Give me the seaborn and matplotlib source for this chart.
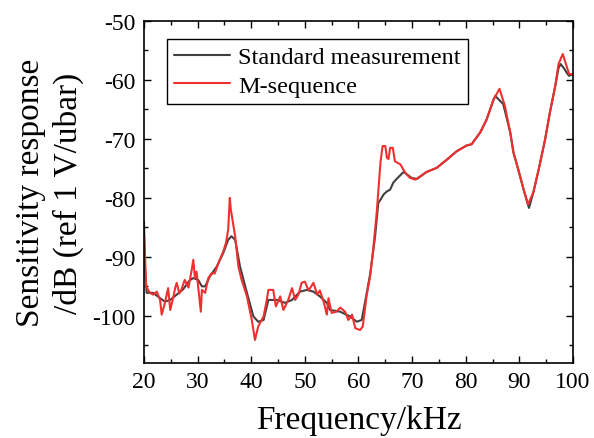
import numpy as np
import pandas as pd
import matplotlib
matplotlib.use("Agg")
import matplotlib.pyplot as plt
from matplotlib.ticker import MultipleLocator
import seaborn as sns

# --- Data ---
freq_std = [20.0, 20.2, 20.5, 21.7, 23.0, 23.9, 24.9, 26.1, 27.3, 28.6,
            29.2, 30.1, 30.8, 31.4, 32.3, 33.6, 34.8, 35.7, 36.3, 37.0,
            37.9, 39.2, 40.4, 41.3, 42.3, 43.2, 44.8, 46.3, 47.6, 49.1,
            50.4, 51.6, 52.8, 54.1, 54.7, 56.6, 58.4, 59.7, 60.6, 61.2,
            62.2, 63.1, 63.7, 63.9, 64.7, 65.3, 65.9, 66.5, 67.1, 68.4,
            69.0, 69.9, 70.9, 72.7, 74.6, 76.5, 78.3, 80.2, 81.1, 82.7,
            83.9, 85.2, 85.5, 87.0, 88.3, 88.9, 89.8, 90.8, 91.8, 92.6,
            93.6, 94.8, 95.7, 96.7, 97.3, 97.7, 98.3, 99.0, 99.3, 100.0]
sens_std = [-84.0, -92.0, -96.1, -96.1, -97.0, -97.6, -97.3, -96.4, -95.5, -93.9,
            -93.6, -93.9, -95.0, -95.0, -93.3, -91.6, -89.3, -87.1, -86.5, -87.1,
            -91.6, -96.1, -100.1, -101.0, -100.7, -97.3, -97.3, -97.8, -97.3, -95.9,
            -95.6, -95.9, -96.7, -97.8, -99.0, -99.3, -100.1, -101.0, -100.7, -97.8,
            -92.8, -86.5, -80.8, -80.6, -79.4, -78.9, -78.6, -77.4, -76.8, -75.6,
            -76.0, -76.6, -76.8, -75.6, -74.9, -73.5, -72.1, -71.1, -70.9, -68.9,
            -66.7, -63.3, -62.7, -64.1, -68.9, -72.3, -75.2, -78.6, -81.7, -79.1,
            -75.2, -70.1, -65.5, -61.0, -58.0, -57.3, -58.0, -59.0, -59.3, -59.0]

freq_mseq = [20.0, 20.2, 20.4, 21.1, 21.7, 22.4, 23.0, 23.3, 23.9, 24.5,
             24.9, 25.5, 25.8, 26.1, 26.6, 27.0, 27.6, 28.3, 28.9, 29.2,
             29.5, 29.8, 30.3, 30.6, 30.8, 31.4, 32.0, 32.6, 33.2, 33.9,
             34.7, 35.3, 35.7, 36.0, 36.2, 37.0, 37.6, 38.2, 39.2, 40.1,
             40.7, 41.3, 42.3, 42.9, 43.2, 44.1, 44.6, 45.4, 46.0, 46.9,
             47.6, 48.2, 48.8, 49.4, 50.0, 50.7, 51.6, 52.3, 52.8, 53.5,
             54.1, 54.4, 55.0, 55.9, 56.6, 57.5, 58.1, 58.8, 59.4, 60.3,
             60.8, 61.5, 62.2, 62.8, 63.4, 64.1, 64.5, 65.0, 65.3, 65.6,
             65.9, 66.4, 66.8, 67.8, 68.7, 69.6, 70.6, 72.7, 74.6, 76.5,
             78.3, 80.2, 81.1, 82.7, 83.9, 85.2, 86.3, 87.3, 88.3, 88.9,
             89.8, 90.8, 91.6, 92.6, 93.6, 94.8, 95.7, 96.7, 97.3, 98.1,
             99.0, 99.3, 100.0]
sens_mseq = [-86.5, -90.0, -95.0, -96.1, -96.4, -95.9, -97.3, -99.8, -97.8, -95.3,
             -99.0, -96.7, -95.3, -94.4, -96.2, -95.5, -93.9, -95.2, -92.2, -90.5,
             -93.6, -92.5, -96.7, -99.3, -95.6, -96.1, -93.6, -92.8, -92.8, -91.0,
             -89.3, -87.6, -85.4, -80.0, -82.0, -86.5, -91.6, -93.9, -96.7, -100.7,
             -104.1, -101.8, -100.1, -97.3, -95.6, -95.6, -98.4, -96.7, -99.0, -97.3,
             -95.3, -97.3, -96.4, -94.4, -94.2, -95.7, -94.4, -96.4, -95.7, -97.6,
             -99.8, -97.0, -99.5, -99.3, -98.6, -99.3, -100.7, -99.8, -102.1, -102.4,
             -101.8, -96.7, -93.1, -88.2, -82.5, -74.0, -71.2, -71.2, -73.2, -73.4,
             -71.5, -71.5, -73.8, -74.3, -75.7, -76.6, -76.9, -75.6, -74.9, -73.5,
             -72.1, -71.1, -70.9, -68.9, -66.7, -63.3, -61.5, -64.4, -68.9, -72.3,
             -75.2, -78.6, -81.1, -79.1, -75.2, -70.1, -65.5, -61.0, -57.3, -55.6,
             -58.2, -59.0, -59.0]

# --- Style ---
sns.set_style("ticks")
plt.rcParams['font.family'] = ['Liberation Serif', 'DejaVu Serif']
plt.rcParams['axes.unicode_minus'] = False
plt.rcParams['text.color'] = 'black'
plt.rcParams['axes.labelcolor'] = 'black'

fig = plt.figure(figsize=(5.94, 4.39), dpi=100)
ax = fig.add_axes([0.2424, 0.1708, 0.7222, 0.7791])

sns.lineplot(x=freq_std, y=sens_std, ax=ax, color='#404040', linewidth=1.5,
             label='Standard measurement', sort=False)
sns.lineplot(x=freq_mseq, y=sens_mseq, ax=ax, color='#f03030', linewidth=1.5,
             label='M-sequence', sort=False)

ax.set_xlim(20, 100)
ax.set_ylim(-108, -50)
ax.xaxis.set_major_locator(MultipleLocator(10))
ax.xaxis.set_minor_locator(MultipleLocator(5))
ax.yaxis.set_major_locator(MultipleLocator(10))
ax.yaxis.set_minor_locator(MultipleLocator(5))
ax.tick_params(which='both', direction='in', top=True, right=True, width=1.0,
               colors='black', labelcolor='black', labelsize=17, pad=6)
ax.tick_params(which='major', length=5)
ax.tick_params(which='minor', length=3)
for sp in ax.spines.values():
    sp.set_linewidth(1.2)
    sp.set_color('black')

ax.set_xlabel('Frequency/kHz', fontsize=24, labelpad=9, color='black')
ax.set_ylabel('Sensitivity response\n/dB (ref 1 V/ubar)', fontsize=24,
              labelpad=6, linespacing=1.3, color='black')

leg = ax.legend(loc='upper left', bbox_to_anchor=(0.053, 0.947), fontsize=17.5,
                frameon=True, fancybox=False, edgecolor='black', framealpha=1,
                borderpad=0.3, handlelength=2.3, handletextpad=0.35,
                labelspacing=0.25, borderaxespad=0)
leg.get_frame().set_linewidth(1.0)
for t in leg.get_texts():
    t.set_color('black')

fig.savefig('out.png', dpi=100)
